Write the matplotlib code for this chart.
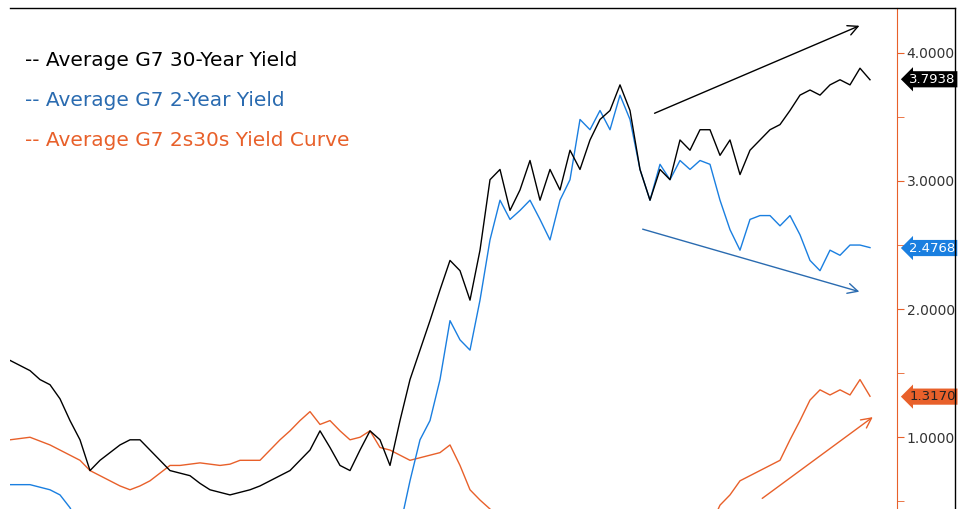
import numpy as np
import matplotlib.pyplot as plt
from matplotlib.lines import Line2D

# weekly-ish samples, left to right
y30 = [1.60, 1.56, 1.52, 1.45, 1.41, 1.30, 1.13, 0.98, 0.74, 0.82, 0.88, 0.94, 0.98, 0.98, 0.90,
       0.82, 0.74, 0.72, 0.70, 0.64, 0.59, 0.57, 0.55, 0.57, 0.59, 0.62, 0.66, 0.70, 0.74, 0.82,
       0.90, 1.05, 0.92, 0.78, 0.74, 0.90, 1.05, 0.98, 0.78, 1.13, 1.45, 1.68, 1.91, 2.15, 2.38,
       2.30, 2.07, 2.46, 3.01, 3.09, 2.77, 2.93, 3.16, 2.85, 3.09, 2.93, 3.24, 3.09, 3.32, 3.48,
       3.55, 3.75, 3.55, 3.09, 2.85, 3.09, 3.01, 3.32, 3.24, 3.40, 3.40, 3.20, 3.32, 3.05, 3.24,
       3.32, 3.40, 3.44, 3.55, 3.67, 3.71, 3.67, 3.75, 3.79, 3.75, 3.88, 3.79]
y2 = ([0.63, 0.63, 0.63, 0.61, 0.59, 0.55, 0.45] + [0.30] * 33 +
      [0.66, 0.98, 1.13, 1.45, 1.91, 1.76, 1.68, 2.07, 2.54, 2.85, 2.70, 2.77, 2.85, 2.70, 2.54,
       2.85, 3.01, 3.48, 3.40, 3.55, 3.40, 3.67, 3.48, 3.09, 2.85, 3.13, 3.01, 3.16, 3.09, 3.16,
       3.13, 2.85, 2.62, 2.46, 2.70, 2.73, 2.73, 2.65, 2.73, 2.58, 2.38, 2.30, 2.46, 2.42, 2.50,
       2.50, 2.48])
curve = ([0.98, 0.99, 1.00, 0.97, 0.94, 0.90, 0.86, 0.82, 0.74, 0.70, 0.66, 0.62, 0.59, 0.62, 0.66,
          0.72, 0.78, 0.78, 0.79, 0.80, 0.79, 0.78, 0.79, 0.82, 0.82, 0.82, 0.90, 0.98, 1.05, 1.13,
          1.20, 1.10, 1.13, 1.05, 0.98, 1.00, 1.05, 0.92, 0.90, 0.86, 0.82, 0.84, 0.86, 0.88, 0.94,
          0.78, 0.59, 0.51, 0.44, 0.35] + [0.30] * 21 +
         [0.47, 0.55, 0.66, 0.70, 0.74, 0.78, 0.82, 0.98, 1.13, 1.29, 1.37, 1.33, 1.37, 1.33, 1.45,
          1.32])
last = {"30Y": 3.7938, "2Y": 2.4768, "2s30s": 1.3170}

BLACK, BLUE, ORANGE = "black", "#1a7fe0", "#e8602a"

fig = plt.figure(figsize=(9.66, 5.09), dpi=100)
ax = fig.add_axes([10 / 966, 0, 887 / 966, 501 / 509])
x = np.arange(len(y30))
ax.plot(np.arange(len(curve)), curve, color=ORANGE, lw=1)
ax.plot(np.arange(len(y2)), y2, color=BLUE, lw=1)
ax.plot(x, y30, color=BLACK, lw=1)
ax.set_xlim(0, 88.7)
ax.set_ylim(0.44, 4.35)

for s in ["left", "bottom", "top"]:
    ax.spines[s].set_visible(False)
ax.spines["right"].set_color(ORANGE)
ax.yaxis.tick_right()
ax.set_yticks([1, 2, 3, 4])
ax.set_yticklabels(["1.0000", "2.0000", "3.0000", "4.0000"])
ax.set_yticks([0.5, 1.5, 2.5, 3.5], minor=True)
ax.tick_params(axis="y", which="both", colors=ORANGE, length=5, labelcolor="#333333",
               labelsize=10, pad=2)
ax.set_xticks([])

# trend arrows
arr = dict(arrowstyle="->", lw=1, mutation_scale=18)
ax.annotate("", xy=(85.2, 4.22), xytext=(64.2, 3.52), arrowprops=dict(arr, color=BLACK))
ax.annotate("", xy=(85.2, 2.13), xytext=(63.0, 2.63), arrowprops=dict(arr, color="#2a6bb0"))
ax.annotate("", xy=(86.5, 1.17), xytext=(75.0, 0.51), arrowprops=dict(arr, color=ORANGE))

# last value tags
for v, c in [(last["30Y"], BLACK), (last["2Y"], BLUE), (last["2s30s"], ORANGE)]:
    ax.text(1.014, v, f"{v:.4f}", transform=ax.get_yaxis_transform(), va="center", ha="left",
            color="white" if c != ORANGE else "#222222", fontsize=9.5, clip_on=False,
            bbox=dict(boxstyle="larrow,pad=0.12", fc=c, ec="none"))

# legend text
for i, (t, c) in enumerate([("-- Average G7 30-Year Yield", BLACK),
                            ("-- Average G7 2-Year Yield", "#2a6bb0"),
                            ("-- Average G7 2s30s Yield Curve", ORANGE)]):
    fig.text(25 / 966, 1 - (60 + 40 * i) / 509, t, color=c, fontsize=14.5, va="center")

# frame
fig.add_artist(Line2D([10 / 966, 955 / 966], [1 - 8 / 509] * 2, color="black", lw=1))
fig.add_artist(Line2D([955 / 966] * 2, [0, 1 - 8 / 509], color="black", lw=1))

fig.savefig("out.png", dpi=100)
